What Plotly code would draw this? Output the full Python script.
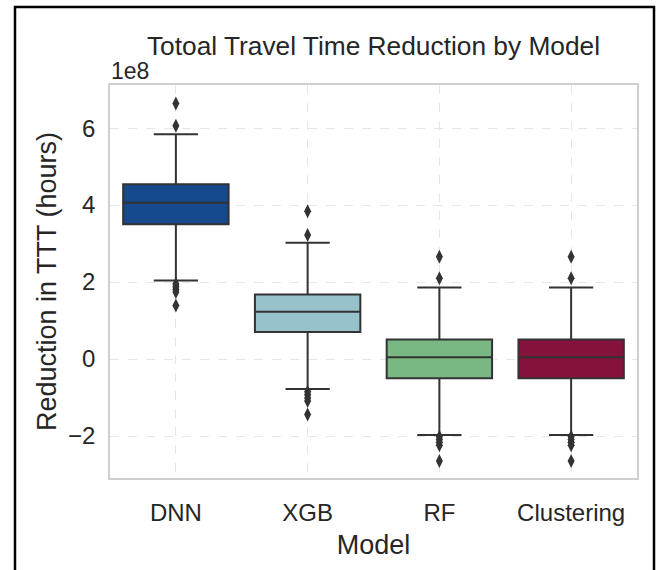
import plotly.graph_objects as go

# ---- data (values in hours) ----
categories = ["DNN", "XGB", "RF", "Clustering"]
q1_vals = [3.50e8, 0.70e8, -0.50e8, -0.50e8]
median_vals = [4.06e8, 1.23e8, 0.05e8, 0.05e8]
q3_vals = [4.54e8, 1.68e8, 0.51e8, 0.51e8]
lower_whisker = [2.04e8, -0.78e8, -1.97e8, -1.97e8]
upper_whisker = [5.84e8, 3.02e8, 1.86e8, 1.86e8]
outliers_dnn = [6.64e8, 6.06e8, 1.95e8, 1.88e8, 1.81e8, 1.74e8, 1.39e8]
outliers_xgb = [3.84e8, 3.22e8, -0.85e8, -0.93e8, -1.01e8, -1.09e8, -1.44e8]
outliers_rf = [2.66e8, 2.10e8, -2.02e8, -2.09e8, -2.16e8, -2.24e8, -2.65e8]
outliers_clustering = [2.66e8, 2.10e8, -2.02e8, -2.09e8, -2.16e8, -2.24e8, -2.65e8]
box_colors = ["#164a8c", "#98c2cb", "#79b882", "#84123c"]
ytick_vals = [-2e8, 0, 2e8, 4e8, 6e8]
ytick_text = ["\u22122", "0", "2", "4", "6"]

outliers = [outliers_dnn, outliers_xgb, outliers_rf, outliers_clustering]

W, H = 660, 570
ML, MR, MT, MB = 110, 23, 85, 92
FONT = "Liberation Sans, Arial, sans-serif"
TXT = "#262626"
EDGE = "#333333"

fig = go.Figure()
for i, cat in enumerate(categories):
    fig.add_trace(go.Box(
        x=[cat], q1=[q1_vals[i]], median=[median_vals[i]], q3=[q3_vals[i]],
        lowerfence=[lower_whisker[i]], upperfence=[upper_whisker[i]],
        fillcolor=box_colors[i], line=dict(color=EDGE, width=2),
        width=0.8, whiskerwidth=0.42, boxpoints=False,
        showlegend=False, hoverinfo="skip",
    ))
    fig.add_trace(go.Scatter(
        x=[cat] * len(outliers[i]), y=outliers[i], mode="markers",
        marker=dict(symbol="diamond-tall", size=10, color=EDGE,
                    line=dict(width=0)),
        showlegend=False, hoverinfo="skip",
    ))

pw = W - ML - MR
ph = H - MT - MB

def px_x(x):
    return (x - ML) / pw

def px_y(y):
    return (H - MB - y) / ph

fig.update_layout(
    width=W, height=H,
    margin=dict(l=ML, r=MR, t=MT, b=MB),
    paper_bgcolor="white", plot_bgcolor="white",
    font=dict(family=FONT, color=TXT, size=24),
    boxmode="overlay",
    title=dict(text="Totoal Travel Time Reduction by Model",
               x=px_x(373.5), xanchor="center", xref="paper",
               y=1 - 46 / H, yanchor="middle",
               font=dict(size=26.3, color=TXT, family=FONT)),
    xaxis=dict(
        type="category", categoryorder="array", categoryarray=categories,
        range=[-0.5, 3.5],
        showgrid=True, gridcolor="#e6e6e6", griddash="dash", gridwidth=1,
        showline=True, linecolor="#cfcfcf", linewidth=1.5, mirror=True,
        ticks="", ticklabelstandoff=12,
        tickfont=dict(size=24, color=TXT),
        title=dict(text="Model", font=dict(size=27, color=TXT), standoff=11),
        zeroline=False,
    ),
    yaxis=dict(
        range=[-3.09e8, 7.12e8],
        tickvals=ytick_vals, ticktext=ytick_text,
        showgrid=True, gridcolor="#e6e6e6", griddash="dash", gridwidth=1,
        showline=True, linecolor="#cfcfcf", linewidth=1.5, mirror=True,
        ticks="", ticklabelstandoff=8,
        tickfont=dict(size=24, color=TXT),
        title=dict(text="Reduction in TTT (hours)", font=dict(size=27, color=TXT),
                   standoff=4),
        zeroline=False,
    ),
    annotations=[dict(
        text="1e8", x=px_x(109), y=px_y(86), xref="paper", yref="paper",
        xanchor="left", yanchor="bottom", showarrow=False,
        font=dict(size=23, color=TXT, family=FONT),
    )],
    shapes=[dict(
        type="rect", xref="paper", yref="paper",
        x0=px_x(15), x1=px_x(654), y0=px_y(620), y1=px_y(7),
        line=dict(color="black", width=2.5), fillcolor="rgba(0,0,0,0)",
        layer="above",
    )],
)

fig.write_html(
    "out.html",
    config={"displayModeBar": False},
    post_script="document.body.style.margin='0';document.body.style.overflow='hidden';",
)
